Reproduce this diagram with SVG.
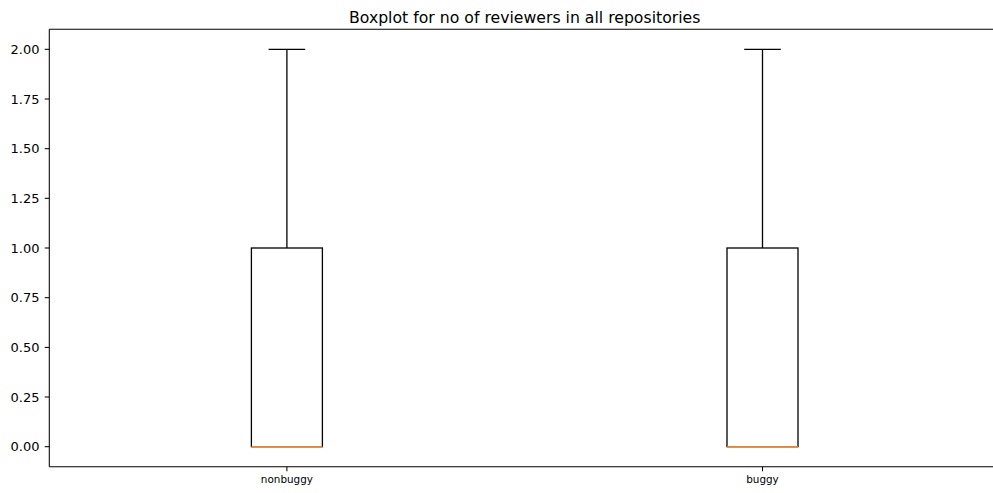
<svg xmlns="http://www.w3.org/2000/svg" width="993" height="493" viewBox="0 0 993 493">
  <style>
    .bg { fill: #ffffff; }
    .spine { stroke: #000000; stroke-width: 1.05; fill: none; }
    .tick { stroke: #000000; stroke-width: 1.05; }
    .box { stroke: #000000; stroke-width: 1.3; fill: none; }
    .median { stroke: #ff7f0e; stroke-width: 1.3; }
    .ylab { font-family: "DejaVu Sans", sans-serif; font-size: 13px; fill: #000000; text-anchor: end; }
    .xlab { font-family: "DejaVu Sans", sans-serif; font-size: 10.4px; fill: #000000; text-anchor: middle; }
    .title { font-family: "DejaVu Sans", sans-serif; font-size: 15.7px; fill: #000000; text-anchor: middle; }
  </style>
  <rect class="bg" x="0" y="0" width="993" height="493"/>

  <text class="title" x="524.7" y="22.5">Boxplot for no of reviewers in all repositories</text>

  <!-- axes frame: the right spine lies outside the canvas -->
  <g id="axes">
    <line class="spine" x1="49.3" y1="29.3" x2="993" y2="29.3"/>
    <line class="spine" x1="49.3" y1="466.7" x2="993" y2="466.7"/>
    <line class="spine" x1="49.3" y1="29.3" x2="49.3" y2="466.7"/>
  </g>

  <!-- y axis ticks and labels -->
  <g id="y-axis">
    <line class="tick" x1="44.7" y1="446.7" x2="49.3" y2="446.7"/>
    <line class="tick" x1="44.7" y1="397.0" x2="49.3" y2="397.0"/>
    <line class="tick" x1="44.7" y1="347.4" x2="49.3" y2="347.4"/>
    <line class="tick" x1="44.7" y1="297.7" x2="49.3" y2="297.7"/>
    <line class="tick" x1="44.7" y1="248.0" x2="49.3" y2="248.0"/>
    <line class="tick" x1="44.7" y1="198.3" x2="49.3" y2="198.3"/>
    <line class="tick" x1="44.7" y1="148.7" x2="49.3" y2="148.7"/>
    <line class="tick" x1="44.7" y1="99.0" x2="49.3" y2="99.0"/>
    <line class="tick" x1="44.7" y1="49.3" x2="49.3" y2="49.3"/>
    <text class="ylab" x="39.5" y="451.4">0.00</text>
    <text class="ylab" x="39.5" y="401.7">0.25</text>
    <text class="ylab" x="39.5" y="352.1">0.50</text>
    <text class="ylab" x="39.5" y="302.4">0.75</text>
    <text class="ylab" x="39.5" y="252.7">1.00</text>
    <text class="ylab" x="39.5" y="203.0">1.25</text>
    <text class="ylab" x="39.5" y="153.4">1.50</text>
    <text class="ylab" x="39.5" y="103.7">1.75</text>
    <text class="ylab" x="39.5" y="54.0">2.00</text>
  </g>

  <!-- x axis ticks and labels -->
  <g id="x-axis">
    <line class="tick" x1="286.9" y1="466.7" x2="286.9" y2="471.3"/>
    <line class="tick" x1="762.5" y1="466.7" x2="762.5" y2="471.3"/>
    <text class="xlab" x="286.9" y="483">nonbuggy</text>
    <text class="xlab" x="762.5" y="483">buggy</text>
  </g>

  <!-- box: nonbuggy -->
  <g id="box-nonbuggy">
    <rect class="box" x="251.4" y="248.0" width="71" height="198.7"/>
    <line class="box" x1="286.9" y1="248.0" x2="286.9" y2="49.3"/>
    <line class="box" x1="268.6" y1="49.3" x2="305.2" y2="49.3"/>
    <line class="median" x1="251.4" y1="446.7" x2="322.4" y2="446.7"/>
  </g>

  <!-- box: buggy -->
  <g id="box-buggy">
    <rect class="box" x="727" y="248.0" width="71" height="198.7"/>
    <line class="box" x1="762.5" y1="248.0" x2="762.5" y2="49.3"/>
    <line class="box" x1="744.2" y1="49.3" x2="780.8" y2="49.3"/>
    <line class="median" x1="727" y1="446.7" x2="798" y2="446.7"/>
  </g>
</svg>
